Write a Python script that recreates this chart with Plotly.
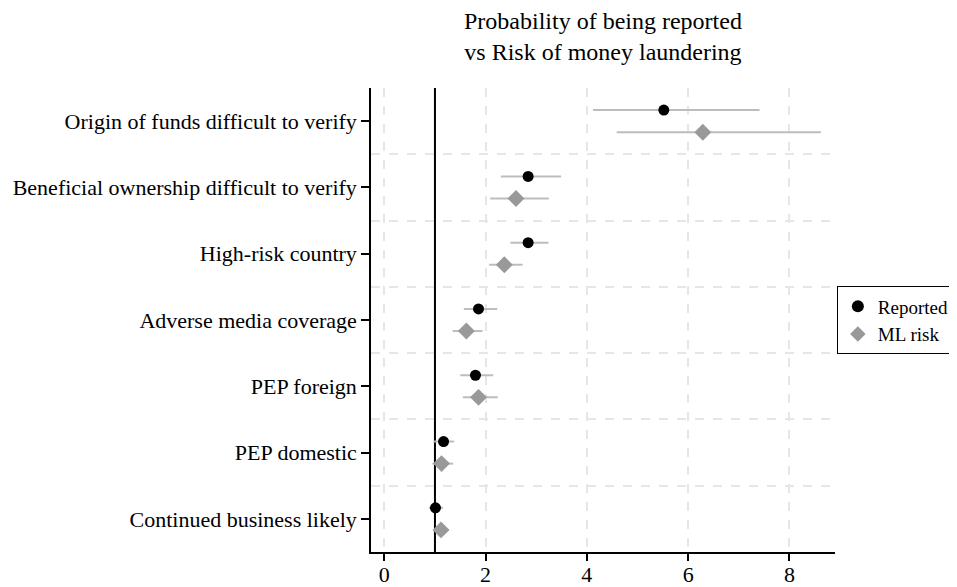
import plotly.graph_objects as go

categories = [
    "Continued business likely",
    "PEP domestic",
    "PEP foreign",
    "Adverse media coverage",
    "High-risk country",
    "Beneficial ownership difficult to verify",
    "Origin of funds difficult to verify",
]
reported = [1.01, 1.17, 1.80, 1.86, 2.84, 2.84, 5.52]
reported_lo = [0.88, 0.97, 1.50, 1.57, 2.49, 2.30, 4.12]
reported_hi = [1.16, 1.38, 2.15, 2.23, 3.24, 3.49, 7.41]
ml_risk = [1.12, 1.13, 1.86, 1.62, 2.37, 2.60, 6.29]
ml_lo = [0.97, 0.95, 1.55, 1.35, 2.07, 2.09, 4.59]
ml_hi = [1.27, 1.36, 2.24, 1.94, 2.73, 3.25, 8.62]
x_ticks = [0, 2, 4, 6, 8]
title_text = "Probability of being reported<br>vs Risk of money laundering"

FONT = "Liberation Serif"
offset = 1 / 6
idx = list(range(len(categories)))

fig = go.Figure()
fig.add_trace(go.Scatter(
    x=reported, y=[i + offset for i in idx], mode="markers", name="Reported",
    marker=dict(symbol="circle", size=11, color="black"),
    error_x=dict(type="data", symmetric=False,
                 array=[h - v for h, v in zip(reported_hi, reported)],
                 arrayminus=[v - l for v, l in zip(reported, reported_lo)],
                 color="#bdbdbd", thickness=2, width=0),
))
fig.add_trace(go.Scatter(
    x=ml_risk, y=[i - offset for i in idx], mode="markers", name="ML risk",
    marker=dict(symbol="diamond", size=13, color="#999999"),
    error_x=dict(type="data", symmetric=False,
                 array=[h - v for h, v in zip(ml_hi, ml_risk)],
                 arrayminus=[v - l for v, l in zip(ml_risk, ml_lo)],
                 color="#bdbdbd", thickness=2, width=0),
))

fig.add_shape(type="line", xref="x", yref="paper", x0=1, x1=1, y0=0, y1=1,
              line=dict(color="black", width=2), layer="below")

fig.add_annotation(text=title_text, xref="paper", yref="paper", x=0.5, y=1.111,
                   xanchor="center", yanchor="middle", showarrow=False,
                   font=dict(family=FONT, size=24, color="black"))

fig.update_layout(
    width=957, height=587,
    margin=dict(l=363, r=130, t=80, b=43, autoexpand=False),
    paper_bgcolor="white", plot_bgcolor="white",
    font=dict(family=FONT, size=22, color="black"),
    legend=dict(x=1.004, xanchor="left", y=0.499, yanchor="middle",
                bordercolor="black", borderwidth=1, bgcolor="white",
                font=dict(family=FONT, size=19), tracegroupgap=0,
                itemsizing="constant"),
    showlegend=True,
)
fig.update_xaxes(
    range=[-0.263, 8.9], tickvals=x_ticks, ticktext=[str(t) for t in x_ticks],
    showgrid=True, gridcolor="#e6e6e6", griddash="dash", gridwidth=1.5,
    zeroline=False, showline=True, linecolor="black", linewidth=1.5,
    ticks="outside", ticklen=7, tickwidth=1.5, tickcolor="black",
    ticklabelstandoff=-5,
    tickfont=dict(family=FONT, size=22),
)
fig.update_yaxes(
    range=[-0.5, 6.5], tickvals=idx, ticktext=categories,
    showgrid=False, zeroline=False, showline=True, linecolor="black", linewidth=1.5,
    ticks="outside", ticklen=8, tickwidth=1.5, tickcolor="black",
    tickfont=dict(family=FONT, size=22),
    minor=dict(tickvals=[i + 0.5 for i in idx[:-1]], showgrid=True,
               gridcolor="#e6e6e6", griddash="dash", gridwidth=1.5, ticklen=0),
)

fig.write_html("out.html")
